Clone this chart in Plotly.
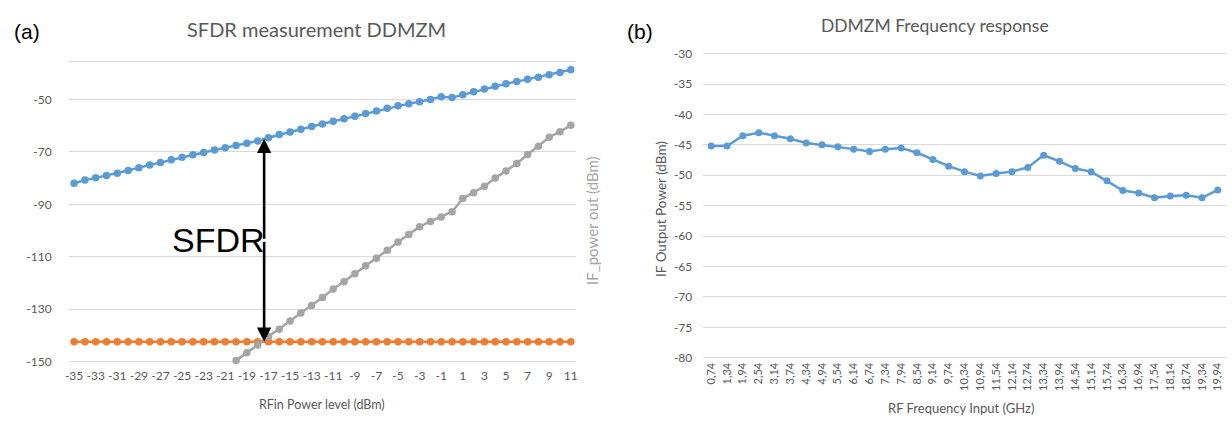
import plotly.graph_objects as go

# ---------------- Panel (a) data ----------------
rfin_dbm = [-35, -34, -33, -32, -31, -30, -29, -28, -27, -26, -25, -24, -23, -22, -21, -20,
            -19, -18, -17, -16, -15, -14, -13, -12, -11, -10, -9, -8, -7, -6, -5, -4, -3,
            -2, -1, 0, 1, 2, 3, 4, 5, 6, 7, 8, 9, 10, 11]
fundamental = [-82.0, -80.7, -79.9, -79.0, -78.1, -77.1, -76.0, -75.0, -74.0, -73.0, -72.0,
               -71.1, -70.2, -69.3, -68.4, -67.6, -66.7, -65.8, -64.6, -63.4, -62.4, -61.4,
               -60.3, -59.4, -58.3, -57.4, -56.4, -55.4, -54.4, -53.4, -52.4, -51.6, -50.9,
               -50.0, -49.0, -49.3, -48.2, -47.1, -46.0, -45.0, -44.0, -43.2, -42.3, -41.5,
               -40.6, -39.7, -38.7]
noise_floor = [-142.4, -142.4, -142.4, -142.4, -142.4, -142.4, -142.4, -142.4, -142.4, -142.4,
               -142.4, -142.4, -142.4, -142.4, -142.4, -142.4, -142.4, -142.4, -142.4, -142.4,
               -142.4, -142.4, -142.4, -142.4, -142.4, -142.4, -142.4, -142.4, -142.4, -142.4,
               -142.4, -142.4, -142.4, -142.4, -142.4, -142.4, -142.4, -142.4, -142.4, -142.4,
               -142.4, -142.4, -142.4, -142.4, -142.4, -142.4, -142.4]
imd3_rfin = [-20, -19, -18, -17, -16, -15, -14, -13, -12, -11, -10, -9, -8, -7, -6, -5, -4,
             -3, -2, -1, 0, 1, 2, 3, 4, 5, 6, 7, 8, 9, 10, 11]
imd3 = [-149.5, -146.6, -143.6, -140.4, -137.6, -134.5, -131.4, -128.6, -125.5, -122.3, -119.5,
        -116.5, -113.4, -110.6, -107.5, -104.4, -101.5, -98.5, -96.5, -94.8, -92.8, -87.8,
        -85.6, -83.1, -80.0, -77.3, -74.4, -71.0, -67.8, -64.4, -62.3, -59.8]
a_xticks = [-35, -33, -31, -29, -27, -25, -23, -21, -19, -17, -15, -13, -11, -9, -7, -5, -3,
            -1, 1, 3, 5, 7, 9, 11]
a_xticktext = ["-35", "-33", "-31", "-29", "-27", "-25", "-23", "-21", "-19", "-17", "-15",
               "-13", "-11", "-9", "-7", "-5", "-3", "-1", "1", "3", "5", "7", "9", "11"]
a_yticks = [-150, -130, -110, -90, -70, -50]
a_yticktext = ["-150", "-130", "-110", "-90", "-70", "-50"]
sfdr_x = -17.4
sfdr_top = -65.0
sfdr_bottom = -142.4

# ---------------- Panel (b) data ----------------
freq_labels = ["0,74", "1,34", "1,94", "2,54", "3,14", "3,74", "4,34", "4,94", "5,54", "6,14",
               "6,74", "7,34", "7,94", "8,54", "9,14", "9,74", "10,34", "10,94", "11,54",
               "12,14", "12,74", "13,34", "13,94", "14,54", "15,14", "15,74", "16,34", "16,94",
               "17,54", "18,14", "18,74", "19,34", "19,94"]
if_power = [-45.2, -45.2, -43.5, -43.0, -43.5, -44.0, -44.7, -45.0, -45.3, -45.7, -46.1, -45.7,
            -45.5, -46.3, -47.4, -48.5, -49.4, -50.1, -49.7, -49.4, -48.7, -46.7, -47.7, -48.9,
            -49.4, -50.9, -52.5, -52.9, -53.7, -53.4, -53.3, -53.7, -52.4]
b_yticks = [-80, -75, -70, -65, -60, -55, -50, -45, -40, -35, -30]
b_yticktext = ["-80", "-75", "-70", "-65", "-60", "-55", "-50", "-45", "-40", "-35", "-30"]

W, H = 1232, 425
def px(x):
    return x / W
def py(y):
    return 1 - y / H

BLUE = "#5B9BD5"
ORANGE = "#ED7D31"
GRAY = "#A5A5A5"
GRID = "#D9D9D9"
TXT = "#595959"
FONT = "Lato, Open Sans, sans-serif"
ARIAL = "Liberation Sans, Arial, sans-serif"

fig = go.Figure()

fig.add_trace(go.Scatter(x=rfin_dbm, y=fundamental, mode="lines+markers",
                         line=dict(color=BLUE, width=2.5), marker=dict(color=BLUE, size=7.5),
                         xaxis="x", yaxis="y", cliponaxis=False, showlegend=False))
fig.add_trace(go.Scatter(x=rfin_dbm, y=noise_floor, mode="lines+markers",
                         line=dict(color=ORANGE, width=2.5), marker=dict(color=ORANGE, size=7.5),
                         xaxis="x", yaxis="y", cliponaxis=False, showlegend=False))
fig.add_trace(go.Scatter(x=imd3_rfin, y=imd3, mode="lines+markers",
                         line=dict(color=GRAY, width=2.5), marker=dict(color=GRAY, size=7.5),
                         xaxis="x", yaxis="y", cliponaxis=False, showlegend=False))

fig.add_trace(go.Scatter(x=list(range(len(freq_labels))), y=if_power, mode="lines+markers",
                         line=dict(color=BLUE, width=2.5), marker=dict(color=BLUE, size=7),
                         xaxis="x2", yaxis="y2", cliponaxis=False, showlegend=False))

# panel (a) vertical geometry
a_ytop = -35.5
a_ybot = -152.0
a_y_top_px = 56.0
a_y_150_px = 365.0
a_scale = (a_y_150_px - a_y_top_px) / (-35.5 - -150)
a_bot_px = a_y_150_px + (-150 - a_ybot) * a_scale

fig.update_layout(
    width=W, height=H,
    margin=dict(l=0, r=0, t=0, b=0),
    paper_bgcolor="white", plot_bgcolor="white",
    font=dict(family=FONT, color=TXT),
    xaxis=dict(domain=[px(65), px(575)], range=[-35.5, 11.5], tickvals=a_xticks,
               ticktext=a_xticktext, tickangle=0,
               showgrid=False, zeroline=False, showline=False, ticks="",
               tickfont=dict(size=12, color=TXT, family=FONT), anchor="y"),
    yaxis=dict(domain=[py(a_bot_px), py(a_y_top_px)], range=[a_ybot, a_ytop],
               tickvals=a_yticks, ticktext=a_yticktext, showgrid=True, gridcolor=GRID,
               gridwidth=1, zeroline=False, showline=False, ticks="", ticklabelstandoff=16,
               tickfont=dict(size=12, color=TXT, family=FONT), anchor="x"),
    xaxis2=dict(domain=[px(702.7), px(1227.7)], range=[-0.5, 32.5],
                tickvals=list(range(len(freq_labels))), ticktext=freq_labels, tickangle=-90,
                showgrid=False, zeroline=False, showline=False, ticks="",
                tickfont=dict(size=11, color=TXT, family=FONT), anchor="y2"),
    yaxis2=dict(domain=[py(362.9), py(46.7)], range=[-80.3, -29.8], tickvals=b_yticks,
                ticktext=b_yticktext,
                showgrid=True, gridcolor=GRID, gridwidth=1, zeroline=False, showline=False,
                ticks="", ticklabelstandoff=10,
                tickfont=dict(size=12, color=TXT, family=FONT), anchor="x2"),
)

# top gridline of panel (a) (unlabelled)
fig.add_shape(type="line", xref="x domain", yref="y domain", x0=0, x1=1, y0=1, y1=1,
              line=dict(color=GRID, width=1), layer="below")

# SFDR double arrow
for tip in (sfdr_top, sfdr_bottom):
    fig.add_annotation(x=sfdr_x, y=tip, ax=sfdr_x, ay=(sfdr_top + sfdr_bottom) / 2,
                       xref="x", yref="y", axref="x", ayref="y", text="", showarrow=True,
                       arrowhead=2, arrowsize=1.1, arrowwidth=2.6, arrowcolor="black",
                       standoff=0, startstandoff=0)

def label(text, x, y, size, color=TXT, family=FONT, angle=0, xanchor="center"):
    fig.add_annotation(text=text, x=px(x), y=py(y), xref="paper", yref="paper",
                       showarrow=False, textangle=angle, xanchor=xanchor, yanchor="middle",
                       font=dict(size=size, color=color, family=family))

label("(a)", 8, 25, 21, "black", ARIAL, xanchor="left")
label("(b)", 624, 25, 21, "black", ARIAL, xanchor="left")
label("SFDR measurement DDMZM", 314, 23, 20)
label("DDMZM Frequency response", 936, 19, 17.5)
label("RFin Power level (dBm)", 320, 409, 12.5)
label("RF Frequency Input (GHz)", 962, 413, 13)
label("IF_power out (dBm)", 591, 220, 15, "#A6A6A6", angle=-90)
label("IF Output Power (dBm)", 660, 208, 13.5, TXT, angle=-90)
label("SFDR", 216, 240, 34, "black", ARIAL)

fig.write_html("out.html", config={"displayModeBar": False},
               post_script="document.body.style.margin='0';")
